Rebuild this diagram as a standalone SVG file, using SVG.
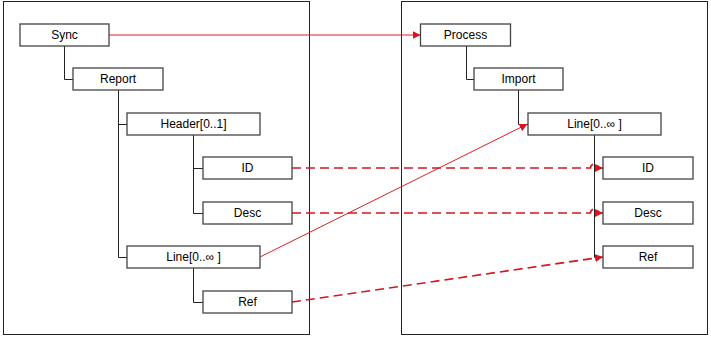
<svg xmlns="http://www.w3.org/2000/svg" width="711" height="337" viewBox="0 0 711 337">
<defs>
<style>
.frame{fill:#fff;stroke:#222;stroke-width:1}
.box rect{fill:#fff;stroke:#444;stroke-width:1.3}
.box text{font-family:"Liberation Sans",Arial,sans-serif;font-size:12px;fill:#000;text-anchor:middle;dominant-baseline:central}
.tree{fill:none;stroke:#222;stroke-width:1}
.map{fill:none;stroke:#e01e2a;stroke-width:1}
.dash{fill:none;stroke:#d9141e;stroke-width:1.6;stroke-dasharray:9 5}
</style>
<marker id="ah" viewBox="0 0 8 8" refX="8" refY="4" markerWidth="8" markerHeight="8" markerUnits="userSpaceOnUse" orient="auto">
<path d="M0,0 L8,4 L0,8 Z" fill="#d9141e"/>
</marker>
</defs>
<rect width="711" height="337" fill="#fff"/>
<rect class="frame" x="3.5" y="1.5" width="306" height="333"/>
<rect class="frame" x="401.5" y="1.5" width="306" height="333"/>
<g id="connectors">
<path class="tree" d="M64.5,46 V79.5 H73"/>
<path class="tree" d="M118.5,90 V257.5 H127 M118.5,124.5 H127"/>
<path class="tree" d="M193.5,135 V213.5 H203 M193.5,168.5 H203"/>
<path class="tree" d="M193.5,268 V302.5 H203"/>
<path class="tree" d="M466.5,46 V79.5 H474"/>
<path class="tree" d="M518.5,90 V124.5 H528"/>
<path class="tree" d="M594.5,135 V257.5 H603 M594.5,168.5 H603 M594.5,213.5 H603"/>
<path class="map" d="M109,35 H420.5" marker-end="url(#ah)"/>
<path class="map" d="M260,257 L527.5,124" marker-end="url(#ah)"/>
<path class="dash" d="M292,168 H590.5 A4,4 0 0 1 598.5,168 H603" marker-end="url(#ah)"/>
<path class="dash" d="M292,213 H590.5 A4,4 0 0 1 598.5,213 H603" marker-end="url(#ah)"/>
<path class="dash" d="M292,302 L603,257" marker-end="url(#ah)"/>
</g>
<g id="sync" class="box"><rect x="20" y="24" width="89" height="22"/><text x="64.5" y="35">Sync</text></g>
<g id="report" class="box"><rect x="73" y="68" width="90" height="22"/><text x="118" y="79">Report</text></g>
<g id="header" class="box"><rect x="127" y="113" width="133" height="22"/><text x="193.5" y="124">Header[0..1]</text></g>
<g id="id-left" class="box"><rect x="203" y="157" width="89" height="22"/><text x="247.5" y="168">ID</text></g>
<g id="desc-left" class="box"><rect x="203" y="202" width="89" height="22"/><text x="247.5" y="213">Desc</text></g>
<g id="line-left" class="box"><rect x="127" y="246" width="133" height="22"/><text x="193.5" y="257">Line[0..∞ ]</text></g>
<g id="ref-left" class="box"><rect x="203" y="291" width="89" height="22"/><text x="247.5" y="302">Ref</text></g>
<g id="process" class="box"><rect x="420.5" y="24" width="90" height="22"/><text x="465.5" y="35">Process</text></g>
<g id="import" class="box"><rect x="474" y="68" width="89" height="22"/><text x="518.5" y="79">Import</text></g>
<g id="line-right" class="box"><rect x="528" y="113" width="133" height="22"/><text x="594.5" y="124">Line[0..∞ ]</text></g>
<g id="id-right" class="box"><rect x="603" y="157" width="90" height="22"/><text x="648" y="168">ID</text></g>
<g id="desc-right" class="box"><rect x="603" y="202" width="90" height="22"/><text x="648" y="213">Desc</text></g>
<g id="ref-right" class="box"><rect x="603" y="246" width="90" height="22"/><text x="648" y="257">Ref</text></g>
</svg>
